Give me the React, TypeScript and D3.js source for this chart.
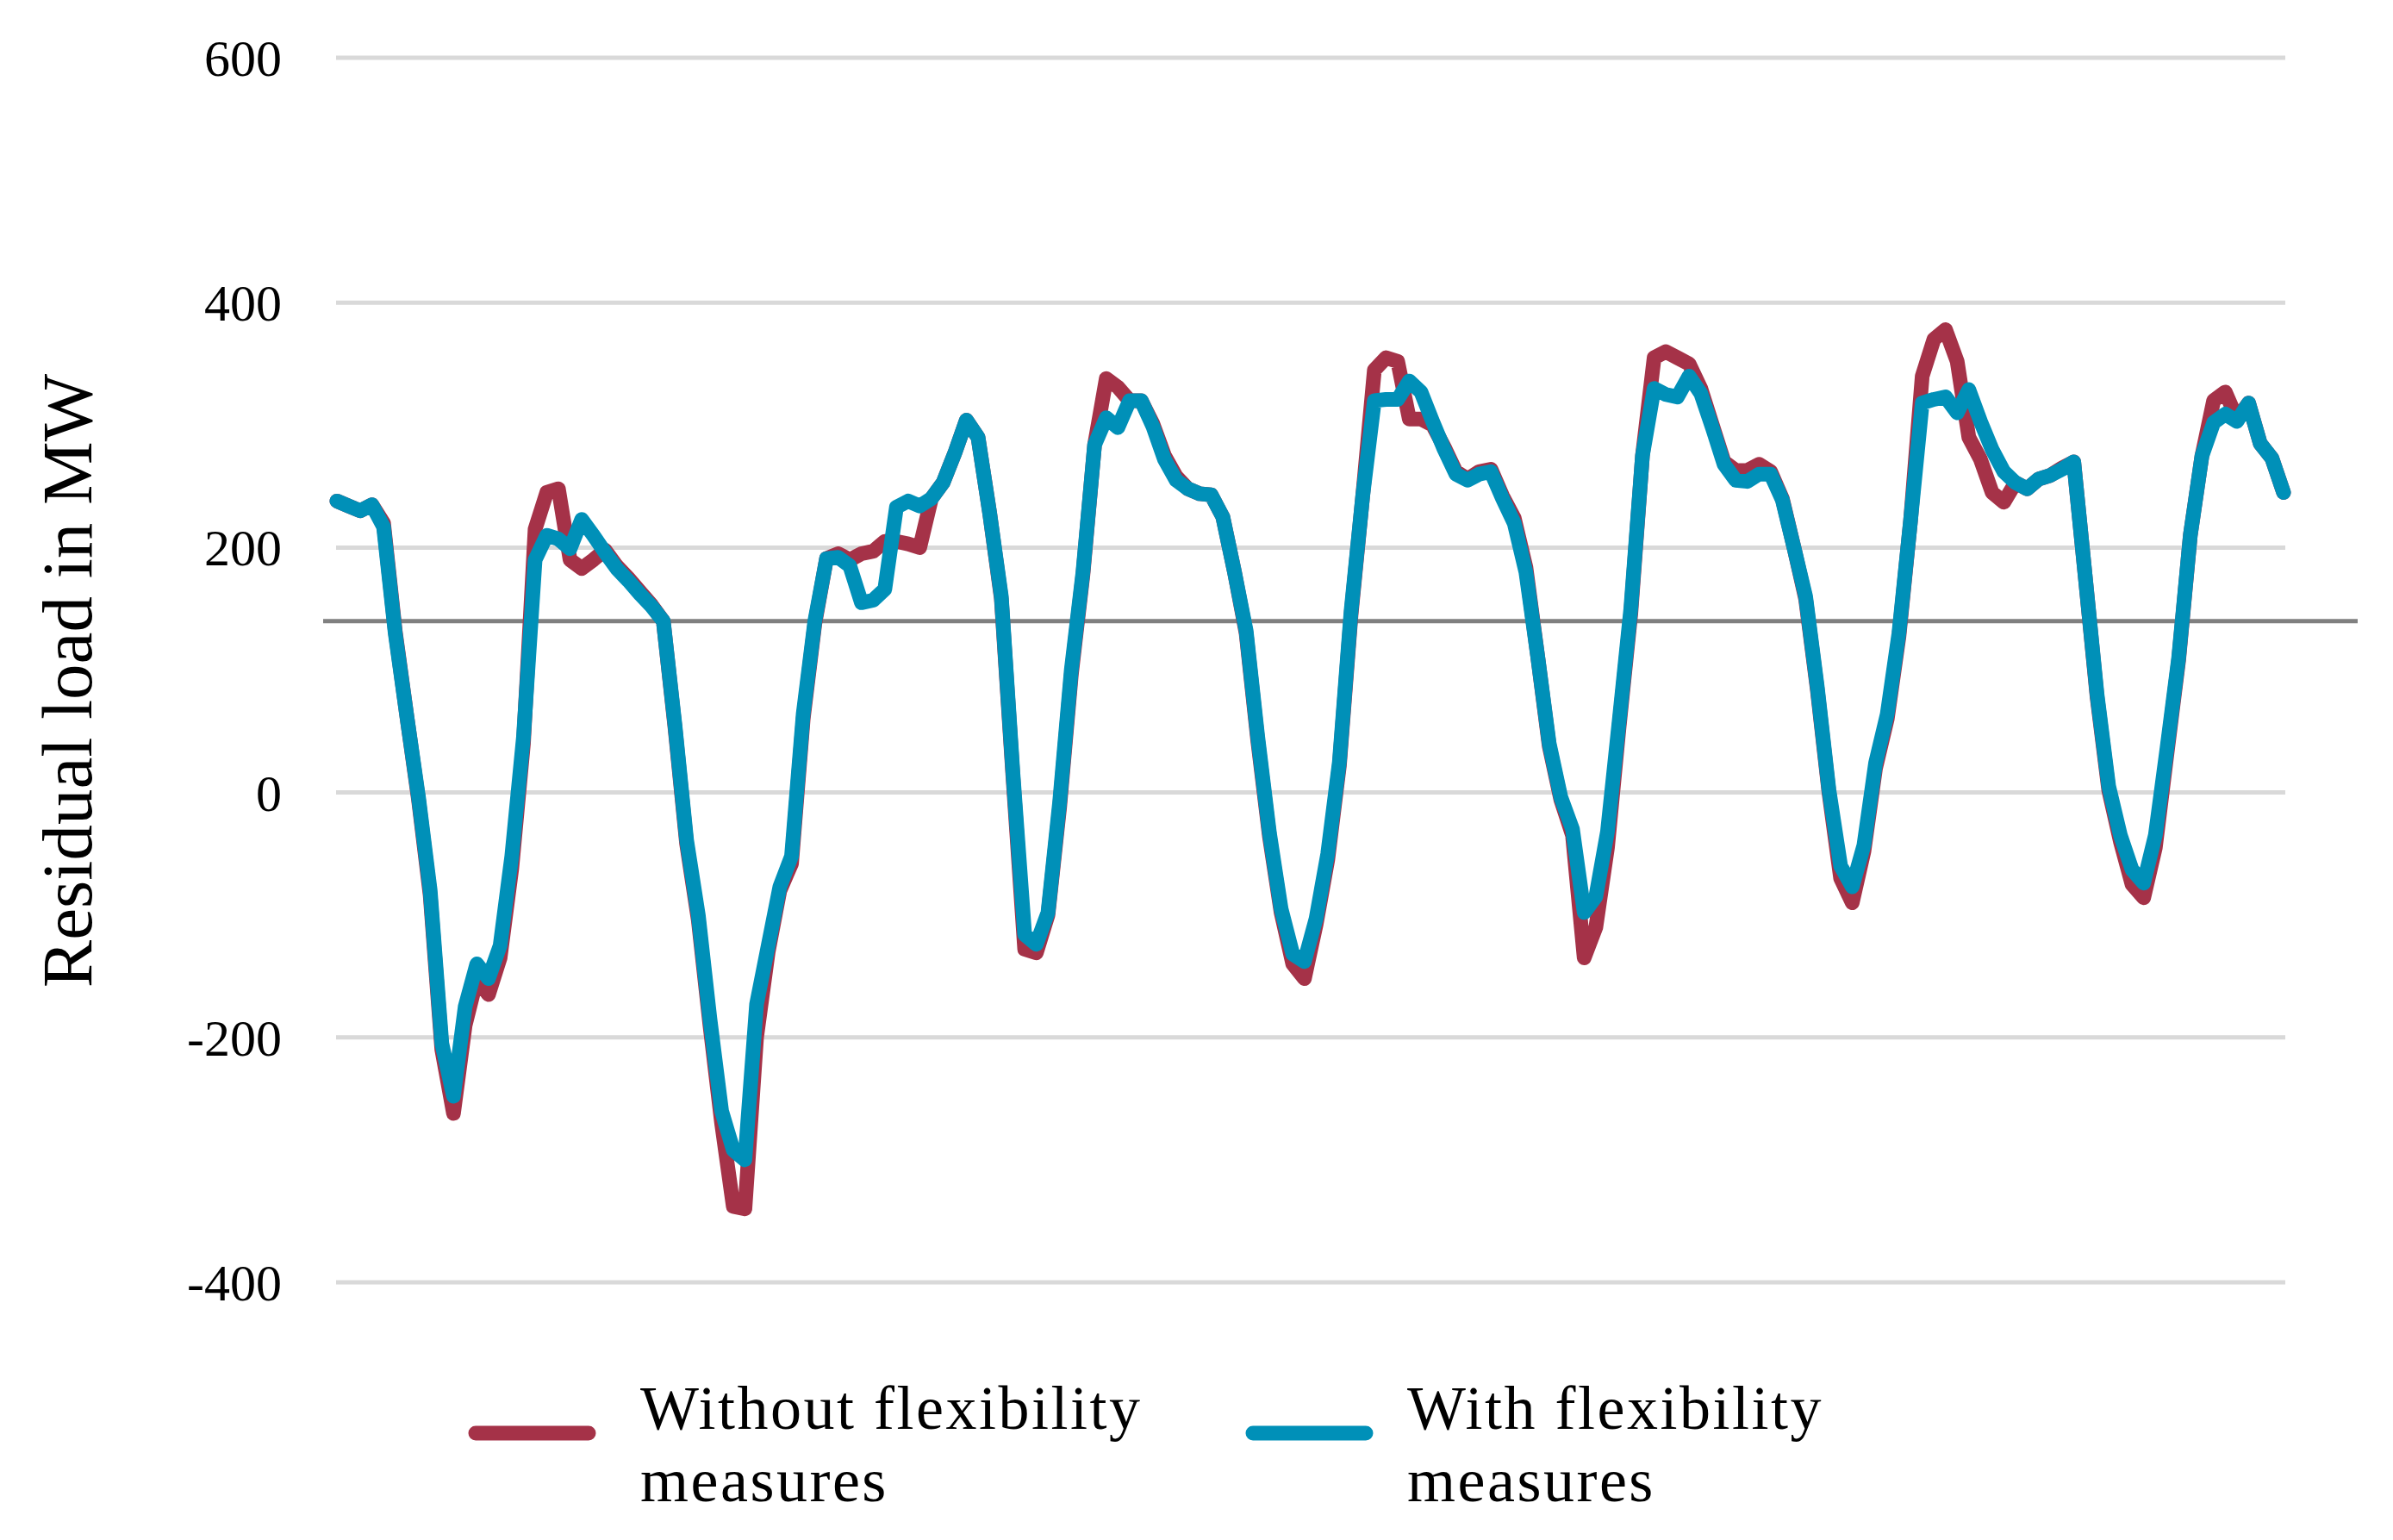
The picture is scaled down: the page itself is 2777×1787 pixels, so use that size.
import React from 'react';
import * as d3 from 'd3';

// hourly residual load over one week, MW
const withoutFlex = [
  238, 234, 230, 235, 220, 132, 62, -6, -84, -210,
  -262, -190, -152, -165, -135, -62, 40, 215, 245, 248,
  190, 183, 190, 198, 185, 175, 164, 153, 140, 53,
  -42, -104, -190, -270, -338, -340, -200, -130, -80, -58,
  60, 138, 191, 195, 190, 195, 197, 205, 205, 203,
  200, 240, 253, 277, 304, 290, 228, 158, 12, -128,
  -131, -100, -12, 96, 178, 284, 338, 331, 320, 320,
  301, 275, 258, 248, 244, 243, 225, 180, 130, 42,
  -36, -98, -140, -152, -108, -55, 22, 145, 242, 345,
  355, 352, 305, 305, 300, 282, 262, 256, 262, 264,
  242, 224, 184, 112, 38, -6, -35, -135, -110, -45,
  54, 146, 275, 355, 360, 355, 350, 330, 300, 270,
  263, 263, 268, 262, 240, 200, 158, 84, 0, -70,
  -90, -48, 20, 60, 127, 222, 340, 370, 378, 352,
  290, 272, 245, 237, 253, 248, 256, 259, 265, 270,
  175, 78, 2, -40, -75, -86, -45, 32, 108, 210,
  275, 320, 327, 305, 318, 285, 273, 245,
];

const withFlex = [
  238, 234, 230, 235, 217, 130, 62, -4, -80, -205,
  -248, -175, -140, -152, -125, -52, 45, 190, 210, 207,
  199, 223, 210, 196, 183, 173, 162, 152, 140, 55,
  -39, -100, -185, -260, -292, -300, -173, -125, -77, -52,
  64, 140, 191, 192, 185, 155, 157, 166, 233, 238,
  234, 240, 253, 277, 304, 290, 228, 160, 15, -116,
  -124, -98, -8, 100, 180, 284, 306, 298, 320, 320,
  299, 272, 255, 248, 244, 243, 225, 180, 132, 45,
  -33, -95, -132, -138, -103, -50, 25, 148, 242, 320,
  321, 321, 336, 327, 303, 280, 260, 255, 260, 262,
  240, 220, 180, 112, 40, -4, -30, -98, -85, -32,
  58, 150, 275, 330, 325, 323, 340, 326, 298, 268,
  255, 254, 260, 260, 239, 200, 160, 86, 2, -60,
  -77, -43, 24, 64, 130, 222, 318, 321, 323, 310,
  329, 303, 280, 262, 253, 248, 256, 259, 264, 270,
  175, 80, 5, -35, -63, -74, -35, 36, 110, 210,
  275, 302, 309, 303, 318, 285, 273, 245,
];

const yTicks = [-400, -200, 0, 200, 400, 600];
const referenceLevel = 140;

const seriesNames = [
  ['Without flexibility', 'measures'],
  ['With flexibility', 'measures'],
];
const seriesColors = ['#a53248', '#0090b8'];

const W = 2777;
const H = 1787;
const FONT = '"Liberation Serif", "DejaVu Serif", serif';

export default function App() {
  const x = d3.scaleLinear().domain([0, withFlex.length - 1]).range([391, 2650]);
  const y = d3.scaleLinear().domain([-400, 600]).range([1488, 67]);

  const line = d3
    .line<number>()
    .x((_, i) => x(i))
    .y((d) => y(d));

  const series = [withoutFlex, withFlex];
  const legendX = [544, 1446];
  const textX = [743, 1633];

  return (
    <div style={{ position: 'absolute', left: 0, top: 0 }}>
      <svg width={W} height={H} viewBox={`0 0 ${W} ${H}`} style={{ display: 'block', background: '#fff' }}>
        {/* gridlines + tick labels */}
        {yTicks.map((t) => (
          <g key={t}>
            <line x1={390} x2={2652} y1={y(t)} y2={y(t)} stroke="#d9d9d9" strokeWidth={5} />
            <text
              x={327}
              y={y(t) + 21}
              textAnchor="end"
              fontFamily={FONT}
              fontSize={60}
              fill="#000"
            >
              {t}
            </text>
          </g>
        ))}

        {/* horizontal reference line */}
        <line
          x1={375}
          x2={2736}
          y1={y(referenceLevel)}
          y2={y(referenceLevel)}
          stroke="#808080"
          strokeWidth={5}
        />

        {series.map((s, i) => (
          <path
            key={i}
            d={line(s) || ''}
            fill="none"
            stroke={seriesColors[i]}
            strokeWidth={17}
            strokeLinejoin="round"
            strokeLinecap="round"
          />
        ))}

        <text
          transform="translate(106,790) rotate(-90)"
          textAnchor="middle"
          fontFamily={FONT}
          fontSize={83}
          fill="#000"
        >
          Residual load in MW
        </text>

        {/* legend */}
        {seriesNames.map((lines, i) => (
          <g key={i}>
            <line
              x1={legendX[i] + 8}
              x2={legendX[i] + 139}
              y1={1663}
              y2={1663}
              stroke={seriesColors[i]}
              strokeWidth={17}
              strokeLinecap="round"
            />
            {lines.map((l, j) => (
              <text
                key={j}
                x={textX[i]}
                y={1658 + j * 84}
                fontFamily={FONT}
                fontSize={72}
                letterSpacing={2.5}
                fill="#000"
              >
                {l}
              </text>
            ))}
          </g>
        ))}
      </svg>
    </div>
  );
}
